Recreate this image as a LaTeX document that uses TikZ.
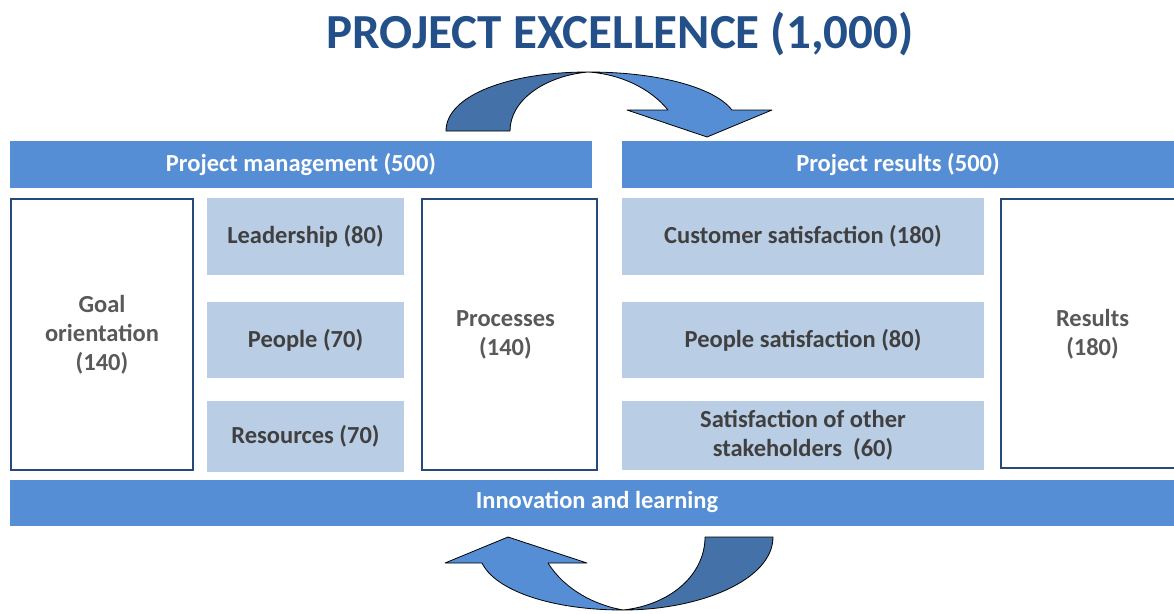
\documentclass[tikz,border=0pt]{standalone}
\usepackage{fontspec}
\setmainfont{Carlito}
\definecolor{barblue}{HTML}{558ED5}
\definecolor{lightbox}{HTML}{B9CDE5}
\definecolor{boxborder}{HTML}{24497A}
\definecolor{titleblue}{HTML}{24508A}
\definecolor{darkband}{HTML}{4472A8}
\definecolor{greytext}{HTML}{595959}
\definecolor{darktext}{HTML}{404040}
\tikzset{
  bodyfont/.style={font=\fontsize{24.5}{29}\selectfont\bfseries},
  bar/.style={fill=barblue, draw=none, text=white, bodyfont, inner sep=0pt},
  lbox/.style={fill=lightbox, draw=none, text=darktext, bodyfont, align=center, inner sep=0pt},
  wbox/.style={fill=white, draw=boxborder, line width=2pt, text=greytext, bodyfont, align=center, inner sep=0pt},
  label/.style={bodyfont, align=center, inner sep=0pt},
  band/.style={draw=black, line width=0.8pt, line join=round},
}
\begin{document}
\begin{tikzpicture}[x=1pt,y=-1pt]
\useasboundingbox (0,0) rectangle (1174,613);
\clip (0,0) rectangle (1174,613);
% title
\node[text=titleblue, font=\fontsize{49}{58}\selectfont\bfseries] (title) at (620,34) {PROJECT EXCELLENCE (1,000)};
% top bars
\node[bar, minimum width=582pt, minimum height=47pt] (pm) at (301,164.5) {Project management (500)};
\node[bar, minimum width=552pt, minimum height=47pt] (pr) at (898,164.5) {Project results (500)};
% left group
\node[wbox, minimum width=182pt, minimum height=271pt] (goal) at (102,334.5) {Goal\\orientation\\(140)};
\node[lbox, minimum width=197pt, minimum height=77pt] (lead) at (305.5,236.5) {Leadership (80)};
\node[lbox, minimum width=197pt, minimum height=76pt] (people) at (305.5,340) {People (70)};
\node[lbox, minimum width=197pt, minimum height=71pt] (res) at (305.5,436.5) {Resources (70)};
\node[wbox, minimum width=175pt, minimum height=271pt] (proc) at (509.5,334.5) {};
\node[label, text=greytext] (proctext) at (505.5,334.5) {Processes\\(140)};
% right group
\node[lbox, minimum width=362pt, minimum height=77pt] (cust) at (803,236.5) {Customer satisfaction (180)};
\node[lbox, minimum width=362pt, minimum height=76pt] (psat) at (803,340) {People satisfaction (80)};
\node[lbox, minimum width=362pt, minimum height=69pt] (other) at (803,435.5) {Satisfaction of other\\stakeholders\ \ (60)};
\node[wbox, minimum width=190pt, minimum height=269pt] (resbox) at (1096,333.5) {};
\node[label, text=greytext] (restext) at (1092.5,334) {Results\\(180)};
% bottom bar
\node[bar, minimum width=1164pt, minimum height=46pt] (innov) at (592,503) {};
\node[label, text=white] (innovtext) at (597,502) {Innovation and learning};
% top curved arrow
\filldraw[band, fill=darkband] (446,131) .. controls (446,95) and (510,72) .. (588,72)
   .. controls (545,76) and (510,100) .. (510,131) -- cycle;
\filldraw[band, fill=barblue] (588,72) .. controls (660,72) and (715,88) .. (732,110)
   -- (772,110) -- (707,137) -- (627,110) -- (668,110)
   .. controls (650,88) and (620,74) .. (588,72) -- cycle;
% bottom curved arrow
\filldraw[band, fill=darkband] (773,537) .. controls (773,580) and (700,610) .. (623,610)
   .. controls (670,605) and (705,575) .. (705,537) -- cycle;
\filldraw[band, fill=barblue] (623,610) .. controls (550,610) and (495,590) .. (482,563)
   -- (445,563) -- (508,537) -- (587,563) -- (548,563)
   .. controls (565,590) and (595,605) .. (623,610) -- cycle;
\end{tikzpicture}
\end{document}
